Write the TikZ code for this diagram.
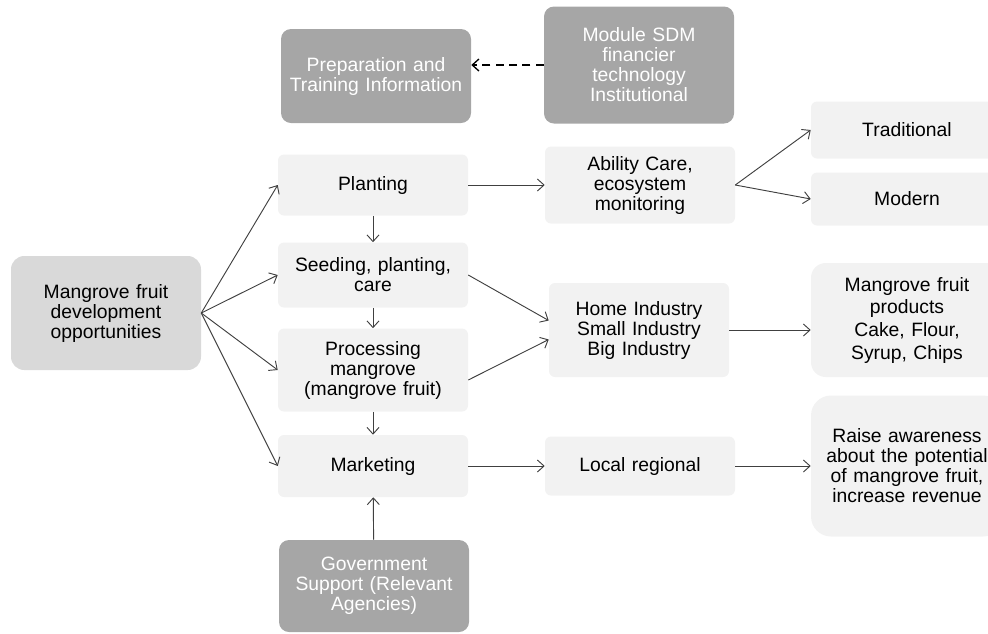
\documentclass[tikz,border=0pt]{standalone}
\usepackage{fontspec}
\setmainfont{Liberation Sans}
\usetikzlibrary{arrows.meta,positioning,shapes.geometric}
\definecolor{darkfill}{HTML}{A6A6A6}
\definecolor{midfill}{HTML}{D9D9D9}
\definecolor{lightfill}{HTML}{F2F2F2}
\definecolor{linecolor}{HTML}{404040}
\tikzset{
       arr/.style = {-{Straight Barb[length=5pt,width=9pt]}, draw=linecolor, line width=0.7pt},   % <--- arrow heads
   dasharr/.style = {arr, draw=black, dash pattern=on 6pt off 4pt, line width=1pt},
      base/.style = {inner sep=0pt, text width=136pt, minimum width=142.5pt, % <---
                     font=\fontsize{14.5}{15}\selectfont, align=center},
  lightbox/.style = {base, rounded corners=4.5pt, fill=lightfill},
    midbox/.style = {base, rounded corners=10pt, fill=midfill},
   darkbox/.style = {base, rounded corners=7.5pt, fill=darkfill, text=white},
  rightbox/.style = {lightbox, minimum width=144pt},
        }
\begin{document}
\begin{tikzpicture}[x=0.75pt,y=-0.75pt]
  \useasboundingbox (0,0) rectangle (988,633);
  % supporting boxes
  \node[darkbox, minimum height=70.5pt]  (prep) at (376,76)  {Preparation and\\Training Information};
  \node[darkbox, minimum height=87.75pt] (sdm)  at (639,65)  {Module SDM\\financier\\technology\\Institutional};
  \node[darkbox, minimum height=69pt]    (gov)  at (374,586) {Government\\Support (Relevant\\Agencies)};
  % start
  \node[midbox, minimum height=85.5pt]   (dev)  at (106,313) {Mangrove fruit\\development\\opportunities};
  % main column
  \node[lightbox, minimum height=45.75pt] (plant)  at (373,185) {Planting};
  \node[lightbox, minimum height=48.75pt] (seed)   at (373,275) {Seeding, planting,\\care};
  \node[lightbox, minimum height=62.25pt] (proc)   at (373,370) {Processing\\mangrove\\(mangrove fruit)};
  \node[lightbox, minimum height=46.5pt]  (market) at (373,466) {Marketing};
  % middle column
  \node[lightbox, minimum height=57.75pt] (care)  at (640,185) {Ability Care,\\ecosystem\\monitoring};
  \node[lightbox, minimum height=70.5pt, minimum width=135pt, text width=130pt] (ind) at (639,330) {Home Industry\\Small Industry\\Big Industry};
  \node[lightbox, minimum height=44.25pt] (local) at (640,466) {Local regional};
  % right column
  \node[rightbox, minimum height=42.75pt] (trad)   at (907,130) {Traditional};
  \node[rightbox, minimum height=39.75pt] (modern) at (907,199) {Modern};
  \node[rightbox, rounded corners=11pt, minimum height=85.5pt,
        font=\fontsize{14.5}{17}\selectfont] (prod) at (907,320) {Mangrove fruit\\products\\Cake, Flour,\\Syrup, Chips};
  \node[rightbox, rounded corners=15pt, minimum height=105.75pt] (aware) at (907,466) {Raise awareness\\about the potential\\of mangrove fruit,\\increase revenue};

  \draw[dasharr] (sdm.west) -- (sdm.west -| prep.east);
  \draw[arr] (dev.east) -- (plant.west);
  \draw[arr] (dev.east) -- (seed.west);
  \draw[arr] (dev.east) -- (proc.west);
  \draw[arr] (dev.east) -- (market.west);
  \draw[arr] (plant) -- (seed);
  \draw[arr] (seed) -- (proc);
  \draw[arr] (proc) -- (market);
  \draw[arr] (gov) -- (market);
  \draw[arr] (plant) -- (care);
  \draw[arr] (seed.east) -- (ind.174);
  \draw[arr] (proc.354) -- (ind.186);
  \draw[arr] (market) -- (local);
  \draw[arr] (care.east) -- (trad.west);
  \draw[arr] (care.east) -- (modern.west);
  \draw[arr] (ind.east) -- (ind.east -| prod.west);
  \draw[arr] (local) -- (aware);
\end{tikzpicture}
\end{document}
